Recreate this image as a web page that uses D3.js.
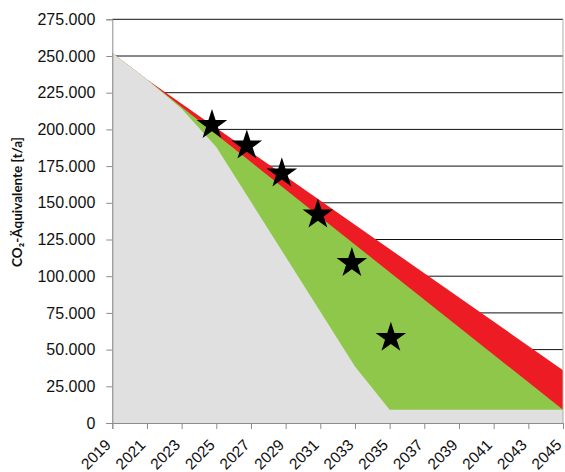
<!DOCTYPE html>
<html>
<head>
<meta charset="utf-8">
<script src="https://cdn.jsdelivr.net/npm/d3@7"></script>
<style>
  body { margin: 0; background: #fff; }
  svg { display: block; font-family: Lato, "Open Sans", sans-serif; }
</style>
</head>
<body>
<svg id="chart"></svg>
<script>
// data
const greyYears = [2019, 2021, 2023, 2025, 2033, 2035, 2045];
const greyValues = [252000, 234000, 214000, 188000, 38500, 9000, 9000];
const greenYears = [2019, 2021, 2045];
const greenValues = [252000, 234000, 9000];
const redYears = [2019, 2021, 2045];
const redValues = [252000, 234000, 36000];
const starYears = [2024.75, 2026.76, 2028.78, 2030.86, 2032.82, 2035.07];
const starValues = [203000, 189000, 170000, 142000, 109000, 58000];
const xTicks = [2019, 2021, 2023, 2025, 2027, 2029, 2031, 2033, 2035, 2037, 2039, 2041, 2043, 2045];
const yTicks = [0, 25000, 50000, 75000, 100000, 125000, 150000, 175000, 200000, 225000, 250000, 275000];

const width = 565, height = 472;
const margin = { top: 19.3, right: 2, bottom: 49, left: 112.3 };

const svg = d3.select("#chart").attr("width", width).attr("height", height);

const x = d3.scaleLinear().domain([2019, 2045]).range([margin.left, width - margin.right]);
const y = d3.scaleLinear().domain([0, 275000]).range([height - margin.bottom, margin.top]);

const fmt = d => d3.format(",")(d).replace(/,/g, ".");

// gridlines
svg.append("g")
  .selectAll("line")
  .data(yTicks.filter(d => d > 0))
  .join("line")
  .attr("x1", x(2019)).attr("x2", x(2045))
  .attr("y1", d => y(d)).attr("y2", d => y(d))
  .attr("stroke", "#111").attr("stroke-width", 1);

// areas (drawn on top of each other)
function area(years, values) {
  const pts = years.map((yr, i) => [yr, values[i]]);
  return d3.area().x(d => x(d[0])).y0(y(0)).y1(d => y(d[1]))(pts);
}
svg.append("path").attr("d", area(redYears, redValues)).attr("fill", "#ED1C24");
svg.append("path").attr("d", area(greenYears, greenValues)).attr("fill", "#8FC74A");
svg.append("path").attr("d", area(greyYears, greyValues)).attr("fill", "#E0E0E0");

// right border
svg.append("line")
  .attr("x1", x(2045)).attr("x2", x(2045))
  .attr("y1", y(275000)).attr("y2", y(0))
  .attr("stroke", "#b5aea4");

// axes
const yAxis = svg.append("g")
  .attr("transform", `translate(${margin.left},0)`)
  .call(d3.axisLeft(y).tickValues(yTicks).tickFormat(fmt).tickSize(6).tickPadding(11));
const xAxis = svg.append("g")
  .attr("transform", `translate(0,${y(0)})`)
  .call(d3.axisBottom(x).tickValues(xTicks).tickFormat(d3.format("d")).tickSize(6));
[yAxis, xAxis].forEach(g => {
  g.select(".domain").attr("stroke", "#8c8c8c");
  g.selectAll(".tick line").attr("stroke", "#8c8c8c");
  g.selectAll("text").attr("font-size", 16).attr("fill", "#111");
});
xAxis.selectAll("text")
  .attr("text-anchor", "end")
  .attr("dy", 0)
  .attr("y", 0)
  .attr("font-size", 15.5)
  .attr("transform", "translate(-1,23) rotate(-45)");

// stars
svg.append("g")
  .selectAll("path")
  .data(starYears.map((yr, i) => [yr, starValues[i]]))
  .join("path")
  .attr("transform", d => `translate(${x(d[0])},${y(d[1])})`)
  .attr("d", d3.symbol().type(d3.symbolStar).size(290))
  .attr("fill", "#000");

// y axis title
svg.append("text")
  .attr("transform", "translate(22,202) rotate(-90)")
  .attr("text-anchor", "middle")
  .attr("font-size", 13.5)
  .attr("font-weight", "bold")
  .attr("fill", "#111")
  .text("CO₂-Äquivalente [t/a]");
</script>
</body>
</html>
